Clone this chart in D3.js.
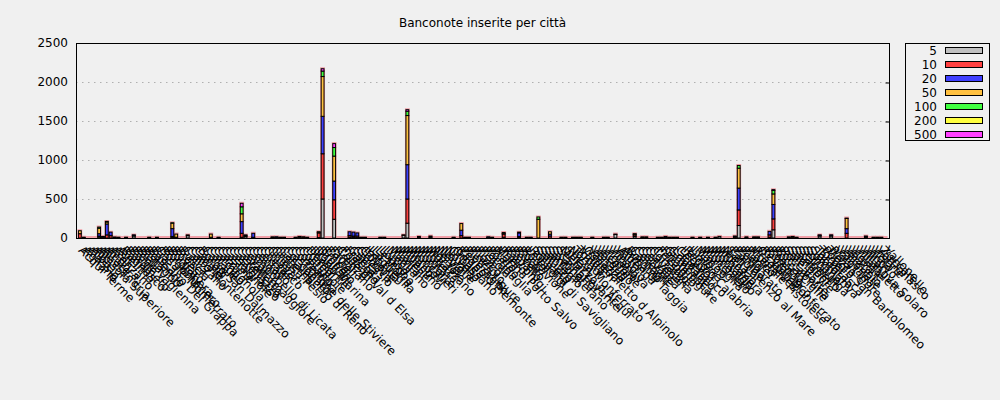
<!DOCTYPE html>
<html>
<head>
<meta charset="utf-8">
<script src="https://cdn.jsdelivr.net/npm/d3@7"></script>
<style>
    body { margin: 0; background: #f0f0f0; }
    svg { display: block; font-family: "DejaVu Sans", sans-serif; }
</style>
</head>
<body>
<svg id="chart"></svg>
<script>

const cities = [
    "Acqui Terme","Agliano","Alassio","Alba","Albisola Superiore","Alessandria","Altare","Andora","Arenzano","Asti",
    "Avellino","Bagnasco","Bardineto","Barge","Bene Vagienna","Biella","Bistagno","Bollengo","Bassano Del Grappa","Bra",
    "Casale Monferrato","Borgomanero","Bordighera","Borgaro","Boves","Brescia","Busca","Calizzano","Cairo Montenotte","Canale",
    "Canelli","Borgo San Dalmazzo","Carcare","Caraglio","Carmagnola","Carrù","Cassine","Castagnole","Casalgrasso","Castellazzo",
    "Castelletto","Cavallermaggiore","Ceva","Campobello di Licata","Cengio","Centallo","Ceriale","Cherasco","Chiavari","Chieri",
    "Chiusa Pesio","Cisterna","Casalecchio di Reno","Cocconato","Castiglione delle Stiviere","Cortemilia","Cossano","Costigliole","Cuneo","Demonte",
    "Diano Marina","Dogliani","Dronero","Empoli","Envie","Farigliano","Firenze","Colle di Val d Elsa","Fossano","Frabosa",
    "Gaeta","Garessio","Genova","Govone","Imperia","Laigueglia","La Morra","Lesegno","Loano","Lucca",
    "Magliano","Manta","Marene","Millesimo","Milano","Mondovì","Moncalieri","Monforte","Montà","Moretta",
    "Murazzano","Narzole","Neive","Neviglie","Novara","Novello","Orbassano","Ormea","Bagnolo Piemonte","Peveragno",
    "Pietra Ligure","Pinerolo","Piozzo","Pisa","Pistoia","Pocapaglia","Poirino","Prato","Marina Porto Salvo","Priero",
    "Racconigi","Rapallo","Revello","Rivoli","Roccavione","Roddi","Levaldigi di Savigliano","Rossana","Saliceto","Saluzzo",
    "Sanremo","Santo Stefano","Savona","Scarnafigi","Sestri Levante","Melazzo d Acqui","Strevi","Nizza Monferrato","Torino","Trinità",
    "Valdieri","Ospedaletto d Alpinolo","Varazze","Venaria","Verduno","Vicoforte","Vignolo","Villanova","Vinadio","Voltri",
    "Albenga","Arma di Taggia","Bordino","Camogli","Ceresole","Cervasca","Cervere","Clavesana","Cortanze","Crissolo",
    "Feisoglio","Finale Ligure","Gambasca","Grinzane","Lagnasco","Cesenatico","Lequio","Reggio Calabria","Limone","Lisio",
    "Mango","Marsaglia","Monchiero","Monesiglio","Montaldo","Montanera","Morozzo","Niella","San Lorenzo al Mare","Paroldo",
    "Pamparato","Perlo","Pianfei","Piasco","Montale Pistoiese","Pradleves","Ozzano Monferrato","Revigliasco","Rifreddo","Roascio",
    "Rocca Cigliè","Roccabruna","Roccaforte","Sale","Sampeyre","Sanfront","Scagnello","Serralunga","Somano","Sommariva",
    "Spotorno","Tarantasca","Torre","Poggio San Bartolomeo","Trezzo","Riva Ligure","Valgrana","Valloriate","Verzuolo","Vezza",
    "Vignale","Villafalletto","Villanova Solaro","Villar","Vinovo","Viola","Visone","Vottignasco","Zuccarello","Vallone"
];

const denominations = ["5", "10", "20", "50", "100", "200", "500"];
const colors = ["#c0c0c0", "#ff4040", "#4040ff", "#ffc040", "#40ff40", "#ffff40", "#ff40ff"];
const yTicks = [0, 500, 1000, 1500, 2000, 2500];

// banconote per taglio, una voce per città
const n5 = [
    0,5,0,0,0,15,10,0,0,5,
    5,0,4,0,25,0,0,0,5,0,
    5,0,0,0,10,5,0,0,30,0,
    0,0,0,0,5,0,5,0,0,0,
    0,0,10,20,0,5,0,0,0,0,
    5,5,5,5,0,0,5,10,10,5,
    0,0,5,500,0,0,240,0,0,0,
    10,10,5,5,5,0,0,0,5,5,
    0,0,0,0,35,190,0,0,10,0,
    0,10,0,0,0,0,0,5,0,0,
    5,5,0,0,0,0,5,5,0,0,
    10,0,0,0,10,0,5,5,0,0,
    0,0,0,0,0,5,5,0,5,5,
    5,0,0,5,0,0,5,5,0,45,
    0,0,0,0,20,0,5,5,0,0,
    5,5,0,5,5,5,0,0,0,5,
    0,5,0,5,0,5,20,0,0,0,
    10,160,0,5,0,5,5,0,0,10,
    105,0,0,0,5,10,5,0,0,0,
    0,0,25,0,0,25,0,0,0,0,
    0,0,0,0,10,0,5,5,5,0
];
const n10 = [
    55,5,0,0,0,10,10,40,30,8,
    5,0,6,0,10,0,0,0,5,0,
    5,0,0,0,10,0,0,0,10,0,
    0,0,0,0,5,0,5,0,0,0,
    0,0,50,10,0,5,0,0,0,0,
    10,5,5,5,0,0,5,10,5,5,
    0,0,60,580,0,0,250,0,0,0,
    20,15,20,5,5,0,0,0,5,5,
    0,0,0,0,5,310,0,0,10,0,
    0,5,0,0,0,0,0,5,0,30,
    5,5,0,0,0,0,5,5,0,0,
    40,0,0,0,10,0,5,5,0,0,
    0,0,25,0,0,5,5,0,5,5,
    5,0,0,5,0,0,5,5,0,5,
    0,0,0,0,20,0,10,10,0,0,
    5,5,5,5,5,5,0,0,0,5,
    0,5,0,5,0,5,0,0,0,0,
    10,200,0,10,0,10,10,0,0,30,
    140,0,0,0,10,10,5,0,0,0,
    0,0,10,0,0,10,0,0,0,60,
    0,0,0,0,10,0,5,5,5,0
];
const n20 = [
    0,0,0,0,0,30,0,140,45,0,
    0,0,0,0,5,0,0,0,0,0,
    0,0,0,0,100,5,0,0,0,0,
    0,0,0,0,0,0,0,0,0,0,
    0,0,150,10,0,50,0,0,0,0,
    0,5,0,0,0,0,0,0,0,0,
    0,0,10,480,0,0,240,0,0,0,
    50,50,40,0,0,0,0,0,0,0,
    0,0,0,0,0,440,0,0,0,0,
    0,10,0,0,0,0,0,0,0,70,
    0,0,0,0,0,0,5,0,0,0,
    10,0,0,0,45,0,0,0,0,0,
    0,0,25,0,0,0,0,0,0,0,
    0,0,0,0,0,0,0,0,0,0,
    0,0,0,0,10,0,0,0,0,0,
    0,0,15,0,0,0,0,0,0,0,
    0,0,0,0,0,0,0,0,0,0,
    5,280,0,0,0,0,0,0,0,45,
    185,0,0,0,0,0,0,0,0,0,
    0,0,5,0,0,5,0,0,0,60,
    0,0,0,0,5,0,0,0,0,0
];
const n50 = [
    38,0,0,0,0,70,0,25,0,0,
    0,0,0,0,0,0,0,0,0,0,
    0,0,0,0,70,40,0,0,0,0,
    0,0,0,0,40,0,0,0,0,0,
    0,0,100,0,0,0,0,0,0,0,
    0,0,0,0,0,0,0,0,0,0,
    0,0,5,510,0,0,320,0,0,0,
    0,0,0,0,0,0,0,0,0,0,
    0,0,0,0,0,630,0,0,0,0,
    0,0,0,0,0,0,0,0,0,85,
    0,0,0,0,0,0,0,0,0,0,
    10,0,0,0,10,0,0,0,0,240,
    0,0,30,0,0,0,0,0,0,0,
    0,0,0,0,0,0,0,0,0,0,
    0,0,0,0,5,0,0,0,0,0,
    0,0,0,0,0,0,0,0,0,0,
    0,0,0,0,0,0,0,0,0,0,
    0,255,0,0,0,0,0,0,0,0,
    135,0,0,0,0,0,0,0,0,0,
    0,0,0,0,0,0,0,0,0,130,
    0,0,0,0,0,0,0,0,0,0
];
const n100 = [
    0,0,0,0,0,15,0,8,0,0,
    0,0,0,0,0,0,0,0,0,0,
    0,0,0,0,5,0,0,0,0,0,
    0,0,0,0,0,0,0,0,0,0,
    0,0,90,0,0,0,0,0,0,0,
    0,0,0,0,0,0,0,0,0,0,
    0,0,0,70,0,0,110,0,0,0,
    0,0,0,0,0,0,0,0,0,0,
    0,0,0,0,0,55,0,0,0,0,
    0,0,0,0,0,0,0,0,0,0,
    0,0,0,0,0,0,0,0,0,0,
    0,0,0,0,0,0,0,0,0,30,
    0,0,0,0,0,0,0,0,0,0,
    0,0,0,0,0,0,0,0,0,0,
    0,0,0,0,0,0,0,0,0,0,
    0,0,0,0,0,0,0,0,0,0,
    0,0,0,0,0,0,0,0,0,0,
    0,35,0,0,0,0,0,0,0,0,
    45,0,0,0,0,0,0,0,0,0,
    0,0,0,0,0,0,0,0,0,5,
    0,0,0,0,0,0,0,0,0,0
];
const n200 = [
    0,0,0,0,0,0,0,0,0,0,
    0,0,0,0,0,0,0,0,0,0,
    0,0,0,0,0,0,0,0,0,0,
    0,0,0,0,0,0,0,0,0,0,
    0,0,0,0,0,0,0,0,0,0,
    0,0,0,0,0,0,0,0,0,0,
    0,0,0,0,0,0,0,0,0,0,
    0,0,0,0,0,0,0,0,0,0,
    0,0,0,0,0,0,0,0,0,0,
    0,0,0,0,0,0,0,0,0,0,
    0,0,0,0,0,0,0,0,0,0,
    0,0,0,0,0,0,0,0,0,0,
    0,0,0,0,0,0,0,0,0,0,
    0,0,0,0,0,0,0,0,0,0,
    0,0,0,0,0,0,0,0,0,0,
    0,0,0,0,0,0,0,0,0,0,
    0,0,0,0,0,0,0,0,0,0,
    0,0,0,0,0,0,0,0,0,0,
    0,0,0,0,0,0,0,0,0,0,
    0,0,0,0,0,0,0,0,0,0,
    0,0,0,0,0,0,0,0,0,0
];
const n500 = [
    0,0,0,0,0,0,0,0,0,0,
    0,0,0,0,0,0,0,0,0,0,
    0,0,0,0,0,0,0,0,0,0,
    0,0,0,0,0,0,0,0,0,0,
    0,0,45,0,0,0,0,0,0,0,
    0,0,0,0,0,0,0,0,0,0,
    0,0,0,30,0,0,50,0,0,0,
    0,0,0,0,0,0,0,0,0,0,
    0,0,0,0,0,20,0,0,0,0,
    0,0,0,0,0,0,0,0,0,0,
    0,0,0,0,0,0,0,0,0,0,
    0,0,0,0,0,0,0,0,0,0,
    0,0,0,0,0,0,0,0,0,0,
    0,0,0,0,0,0,0,0,0,0,
    0,0,0,0,0,0,0,0,0,0,
    0,0,0,0,0,0,0,0,0,0,
    0,0,0,0,0,0,0,0,0,0,
    0,0,0,0,0,0,0,0,0,0,
    10,0,0,0,0,0,0,0,0,0,
    0,0,0,0,0,0,0,0,0,0,
    0,0,0,0,0,0,0,0,0,0
];

class StackedHistogram {

    constructor(_config) {
        this.config = {
            parentElement: _config.parentElement,
            width: _config.width || 1000,
            height: _config.height || 400,
            margin: {top: 43, right: 111, bottom: 162, left: 76}
        };
        this.initVis();
    }

    initVis() {
        let vis = this;
        const m = vis.config.margin;

        vis.svg = d3.select(vis.config.parentElement)
            .attr('width', vis.config.width)
            .attr('height', vis.config.height);

        vis.svg.append('rect')
            .attr('width', vis.config.width)
            .attr('height', vis.config.height)
            .attr('fill', '#f0f0f0');

        vis.x = d3.scaleLinear()
            .domain([-1, cities.length])
            .range([m.left, vis.config.width - m.right]);

        vis.y = d3.scaleLinear()
            .domain([0, 2500])
            .range([vis.config.height - m.bottom, m.top]);
    }

    render() {
        let vis = this;
        const x = vis.x, y = vis.y;
        const [x0, x1] = x.range();
        const [yb, yt] = y.range();

        const table = cities.map((c, i) => ({
            city: c, '5': n5[i], '10': n10[i], '20': n20[i], '50': n50[i],
            '100': n100[i], '200': n200[i], '500': n500[i]
        }));
        const layers = d3.stack().keys(denominations)(table);
        const totals = table.map(d => d3.sum(denominations, k => d[k]));
        const bw = (x(1) - x(0)) - 1;

        vis.svg.append('text')
            .attr('x', (x0 + x1) / 2)
            .attr('y', 27)
            .attr('text-anchor', 'middle')
            .attr('font-size', 12)
            .text('Banconote inserite per città');

        // dotted grid
        vis.svg.append('g')
            .selectAll('line')
            .data(yTicks.filter(t => t > 0 && t < 2500))
            .join('line')
            .attr('x1', x0).attr('x2', x1)
            .attr('y1', d => Math.round(y(d)) + 0.5)
            .attr('y2', d => Math.round(y(d)) + 0.5)
            .attr('stroke', '#b0b0b0')
            .attr('stroke-dasharray', '1.5,4.5');

        // soft halo round every bar, also shows on empty cities
        vis.svg.append('g')
            .attr('fill', 'none')
            .attr('stroke', '#f0a0a8')
            .attr('stroke-width', 2)
            .selectAll('path')
            .data(totals)
            .join('path')
            .attr('d', (d, i) => {
                const l = x(i) - bw / 2, r = x(i) + bw / 2;
                return `M${l},${yb - 1}V${y(d) - 0.5}H${r}V${yb - 1}Z`;
            });

        vis.svg.append('g')
            .selectAll('g')
            .data(layers)
            .join('g')
            .attr('fill', (d, i) => colors[i])
            .attr('stroke', '#000')
            .attr('stroke-width', 1)
            .selectAll('rect')
            .data(d => d.map((v, i) => ({v, i})).filter(e => e.v[1] > e.v[0]))
            .join('rect')
            .attr('x', e => x(e.i) - bw / 2)
            .attr('y', e => y(e.v[1]))
            .attr('width', bw)
            .attr('height', e => y(e.v[0]) - y(e.v[1]));

        // frame
        vis.svg.append('rect')
            .attr('x', x0 + 0.5).attr('y', yt + 0.5)
            .attr('width', x1 - x0).attr('height', yb - yt)
            .attr('fill', 'none')
            .attr('stroke', '#000')
            .attr('stroke-width', 1);

        const yAxis = vis.svg.append('g')
            .attr('transform', `translate(${x0},0)`)
            .call(d3.axisLeft(y).tickValues(yTicks).tickFormat(d3.format('d')).tickSize(0).tickPadding(8));
        yAxis.select('.domain').remove();
        yAxis.selectAll('text')
            .attr('font-family', '"DejaVu Sans", sans-serif')
            .attr('font-size', 12)
            .attr('fill', '#000');

        const mirror = vis.svg.append('g')
            .attr('transform', `translate(${x1 + 0.5},0.5)`)
            .call(d3.axisLeft(y).tickValues(yTicks.slice(1, -1)).tickSize(4).tickFormat(''));
        mirror.select('.domain').remove();
        mirror.selectAll('line').attr('stroke', '#000');

        vis.svg.append('g')
            .attr('font-size', 12)
            .attr('fill', '#000')
            .selectAll('text')
            .data(cities)
            .join('text')
            .attr('transform', (d, i) => `translate(${x(i) - 2},${yb + 13}) rotate(45)`)
            .text(d => d);

        // legend
        const lg = vis.svg.append('g');
        lg.append('rect')
            .attr('x', 905.5).attr('y', 43.5)
            .attr('width', 84).attr('height', 97)
            .attr('fill', 'none')
            .attr('stroke', '#000');
        const row = lg.selectAll('g.row')
            .data(denominations)
            .join('g')
            .attr('class', 'row')
            .attr('transform', (d, i) => `translate(0,${50.5 + i * 14})`);
        row.append('text')
            .attr('x', 937)
            .attr('dy', '0.35em')
            .attr('text-anchor', 'end')
            .attr('font-size', 12)
            .text(d => d);
        row.append('rect')
            .attr('x', 945.5).attr('y', -3)
            .attr('width', 37).attr('height', 6)
            .attr('fill', (d, i) => colors[i])
            .attr('stroke', '#000');
    }
}

const chart = new StackedHistogram({parentElement: '#chart', width: 1000, height: 400});
chart.render();
</script>
</body>
</html>
